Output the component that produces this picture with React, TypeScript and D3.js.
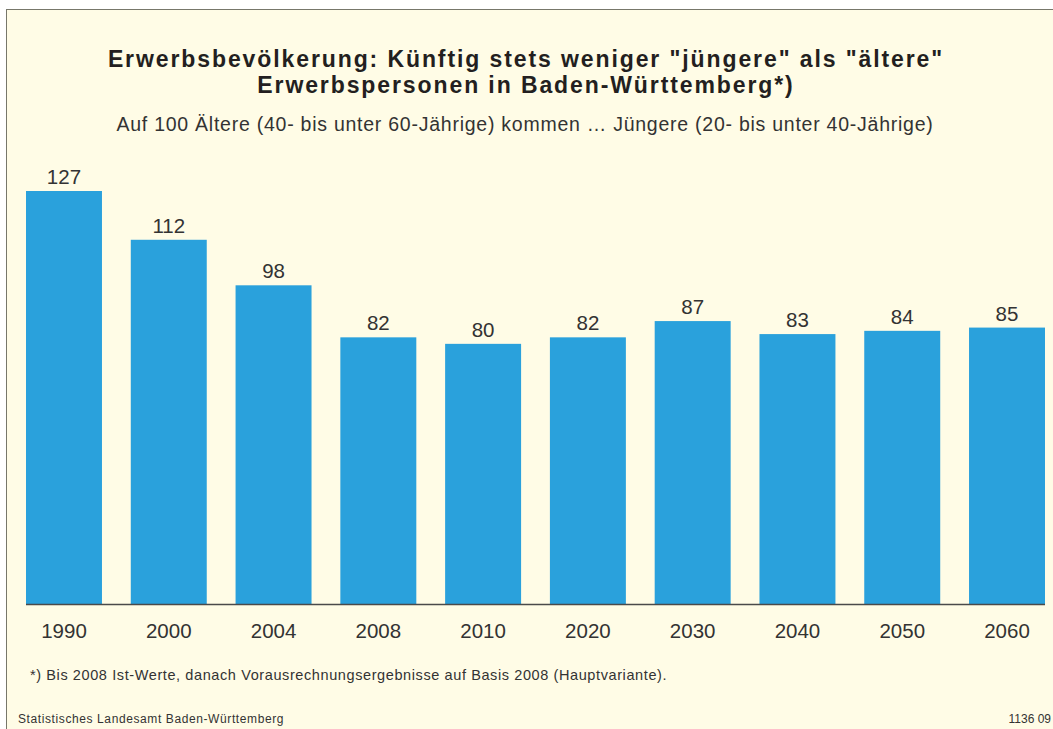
import React from "react";
import * as d3 from "d3";

const years = ["1990", "2000", "2004", "2008", "2010", "2020", "2030", "2040", "2050", "2060"];
const values = [127, 112, 98, 82, 80, 82, 87, 83, 84, 85];

const titleLines = [
  'Erwerbsbevölkerung: Künftig stets weniger "jüngere" als "ältere"',
  "Erwerbspersonen in Baden-Württemberg*)",
];
const subtitle = "Auf 100 Ältere (40- bis unter 60-Jährige) kommen … Jüngere (20- bis unter 40-Jährige)";
const footnote = "*) Bis 2008 Ist-Werte, danach Vorausrechnungsergebnisse auf Basis 2008 (Hauptvariante).";
const source = "Statistisches Landesamt Baden-Württemberg";
const code = "1136 09";

const W = 1053;
const H = 729;
const font = "'Liberation Sans', Arial, Helvetica, sans-serif";

export default function App() {
  const baseY = 604;
  const x = d3.scaleBand<string>().domain(years).range([26, 1045]).paddingInner(0.275).paddingOuter(0);
  const y = d3.scaleLinear().domain([0, 127]).range([baseY, 191]);

  return (
    <div style={{ position: "absolute", left: 0, top: 0 }}>
      <svg width={W} height={H} style={{ display: "block", fontFamily: font }}>
        <rect x={0} y={0} width={W} height={H} fill="#ffffff" />
        <rect x={6.5} y={9.5} width={W + 20} height={H + 20} fill="#fffce6" stroke="#77776a" strokeWidth={1} />

        <g fill="#231f20" fontWeight="bold" fontSize={23} letterSpacing={1.9} textAnchor="middle">
          {titleLines.map((t, i) => (
            <text key={i} x={526} y={67 + i * 26}>{t}</text>
          ))}
        </g>
        <text x={525} y={131} textAnchor="middle" fontSize={19.5} letterSpacing={0.75} fill="#333">{subtitle}</text>

        <g>
          {years.map((yr, i) => (
            <rect key={yr} x={x(yr)} y={y(values[i])} width={x.bandwidth()} height={baseY - y(values[i])} fill="#2aa1dc" />
          ))}
        </g>
        <line x1={26} x2={1045} y1={baseY + 0.5} y2={baseY + 0.5} stroke="#4a4a4a" strokeWidth={1.5} />

        <g fontSize={20.5} fill="#333" textAnchor="middle">
          {years.map((yr, i) => (
            <text key={"v" + yr} x={(x(yr) ?? 0) + x.bandwidth() / 2} y={y(values[i]) - 7}>{values[i]}</text>
          ))}
          {years.map((yr) => (
            <text key={"l" + yr} x={(x(yr) ?? 0) + x.bandwidth() / 2} y={638}>{yr}</text>
          ))}
        </g>

        <text x={30} y={680} fontSize={14.5} letterSpacing={0.6} fill="#333">{footnote}</text>
        <text x={18} y={723} fontSize={12} letterSpacing={0.6} fill="#333">{source}</text>
        <text x={1051} y={723} fontSize={12} fill="#333" textAnchor="end">{code}</text>
      </svg>
    </div>
  );
}
